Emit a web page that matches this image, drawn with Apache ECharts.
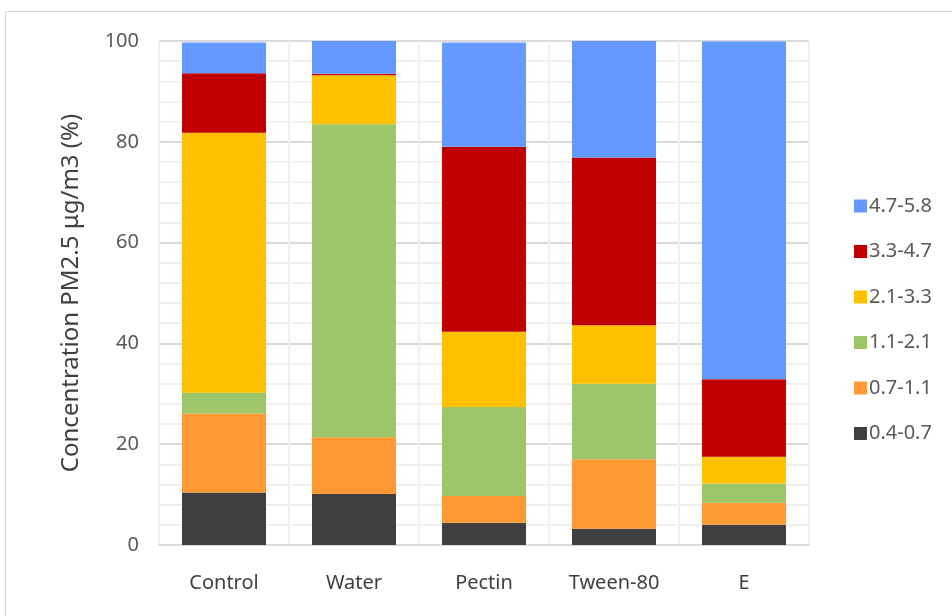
<!DOCTYPE html>
<html>
<head>
<meta charset="utf-8">
<style>
  html, body { margin: 0; padding: 0; background: #ffffff; }
  #chart { width: 952px; height: 616px; }
</style>
<script src="https://cdn.jsdelivr.net/npm/echarts@6/dist/echarts.min.js"></script>
</head>
<body>
<div id="chart"></div>
<script>
// Share of PM2.5 concentration in each size band (%), per treatment
var categories = ['Control', 'Water', 'Pectin', 'Tween-80', 'E'];
var band_04_07 = [10.4, 10.1, 4.4, 3.2, 4.0];
var band_07_11 = [15.7, 11.3, 5.3, 13.8, 4.4];
var band_11_21 = [4.1, 62.1, 17.7, 15.0, 3.8];
var band_21_33 = [51.6, 9.7, 14.9, 11.6, 5.3];
var band_33_47 = [11.8, 0.3, 36.7, 33.3, 15.4];
var band_47_58 = [6.1, 6.5, 20.7, 23.1, 67.0];
var yTicks = [0, 20, 40, 60, 80, 100];

var bands = [
  { name: '0.4-0.7', data: band_04_07, color: '#404040' },
  { name: '0.7-1.1', data: band_07_11, color: '#FF9933' },
  { name: '1.1-2.1', data: band_11_21, color: '#9DC66B' },
  { name: '2.1-3.3', data: band_21_33, color: '#FFC000' },
  { name: '3.3-4.7', data: band_33_47, color: '#C00000' },
  { name: '4.7-5.8', data: band_47_58, color: '#6699FF' }
];

var font = '"Noto Sans", "Open Sans", sans-serif';
var chart = echarts.init(document.getElementById('chart'), null, { renderer: 'canvas' });

chart.setOption({
  animation: false,
  backgroundColor: '#ffffff',
  textStyle: { fontFamily: font },
  graphic: [{
    type: 'rect',
    shape: { x: 5.5, y: 11.5, width: 1000, height: 700 },
    style: { fill: 'none', stroke: '#d9d9d9', lineWidth: 1 },
    silent: true
  }],
  grid: { left: 159, right: 143, top: 41, bottom: 71 },
  legend: {
    orient: 'vertical',
    left: 849,
    top: 191,
    itemWidth: 13,
    itemHeight: 13,
    itemGap: 25.5,
    icon: 'rect',
    data: bands.map(function (b) { return b.name; }).reverse(),
    textStyle: { fontFamily: font, fontSize: 20, color: '#595959', padding: [0, 0, 0, -3] }
  },
  xAxis: {
    type: 'category',
    data: categories,
    axisLine: { show: true, lineStyle: { color: '#d9d9d9', width: 2 } },
    axisTick: { show: false },
    splitLine: { show: true, lineStyle: { color: '#f0f0f0', width: 2 } },
    axisLabel: { fontFamily: font, fontSize: 20, color: '#404040', margin: 28 }
  },
  yAxis: {
    type: 'value',
    min: yTicks[0],
    max: yTicks[yTicks.length - 1],
    interval: 20,
    name: 'Concentration PM2.5 μg/m3 (%)',
    nameLocation: 'middle',
    nameGap: 76,
    nameTextStyle: { fontFamily: font, fontSize: 24, color: '#404040' },
    axisLine: { show: false },
    axisTick: { show: false },
    axisLabel: { fontFamily: font, fontSize: 20, color: '#595959', margin: 20 },
    splitLine: { show: true, lineStyle: { color: '#d9d9d9', width: 2 } },
    minorTick: { show: false, splitNumber: 5 },
    minorSplitLine: { show: true, lineStyle: { color: '#f0f0f0', width: 2 } }
  },
  series: bands.map(function (b) {
    return {
      name: b.name,
      type: 'bar',
      stack: 'total',
      barWidth: 84,
      data: b.data,
      itemStyle: { color: b.color },
      emphasis: { disabled: true }
    };
  })
});
</script>
</body>
</html>
